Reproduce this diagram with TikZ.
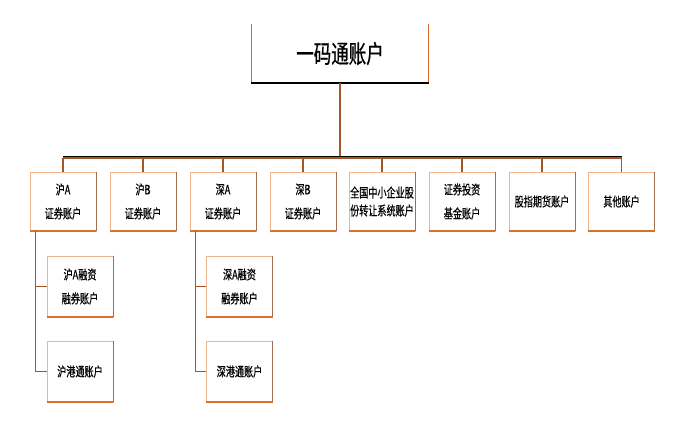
\documentclass[tikz,border=0pt]{standalone}
\usepackage{fontspec}
\setmainfont[FakeStretch=0.7,FakeBold=0.6]{Noto Sans CJK SC}
\usetikzlibrary{positioning}

\definecolor{linecol}{RGB}{165,85,40}
\definecolor{edgecol}{RGB}{240,180,140}
\definecolor{shadecol}{RGB}{222,110,45}
\definecolor{sidecol}{RGB}{160,110,85}

\tikzset{
  acct/.style={draw=edgecol, line width=0.8pt, fill=white,
    minimum width=66pt, minimum height=59pt, inner sep=0pt,
    align=center, font=\fontsize{13}{24}\selectfont},
  link/.style={draw=linecol, line width=1.4pt},
  shade/.style={draw=shadecol, line width=2pt},
}

\begin{document}
\begin{tikzpicture}[x=1pt, y=-1pt]
  \useasboundingbox (0,0) rectangle (685,427);
  \coordinate (bus) at (0,158);

  % top account
  \node[minimum width=177pt, minimum height=59pt, inner sep=0pt,
    font=\fontsize{25}{28}\selectfont] (Top) at (340,53.5) {一码通账户};
  \draw[draw=shadecol, line width=0.8pt] (Top.north west) -- (Top.south west);
  \draw[draw=shadecol, line width=0.8pt] (Top.north east) -- (Top.south east);
  \draw[black, line width=1.6pt] (Top.south west) -- (Top.south east);

  % first level
  \node[acct] (HuA)   at (63,201.5)  {沪A\\证券账户};
  \node[acct] (HuB)   at (143,201.5) {沪B\\证券账户};
  \node[acct] (ShenA) at (223,201.5) {深A\\证券账户};
  \node[acct] (ShenB) at (303,201.5) {深B\\证券账户};
  \node[acct, font=\fontsize{13}{18}\selectfont] (Neeq) at (382,201.5)
    {全国中小企业股\\份转让系统账户};
  \node[acct] (Fund)  at (462,201.5) {证券投资\\基金账户};
  \node[acct] (Fut)   at (542,201.5) {股指期货账户};
  \node[acct] (Other) at (621.5,201.5) {其他账户};

  % second level
  \node[acct, minimum height=61pt] (HuARz)   at (80,286.5)    {沪A融资\\融券账户};
  \node[acct, minimum height=61pt] (HuGt)    at (80,371.5)    {沪港通账户};
  \node[acct, minimum height=61pt] (ShenARz) at (239.5,286.5) {深A融资\\融券账户};
  \node[acct, minimum height=61pt] (ShenGt)  at (239.5,371.5) {深港通账户};

  \foreach \n in {HuA,HuB,ShenA,ShenB,Neeq,Fund,Fut,Other,HuARz,HuGt,ShenARz,ShenGt}{
    \draw[draw=sidecol, line width=1.1pt] (\n.north east) -- (\n.south east);
    \draw[shade] (\n.south west) -- (\n.south east);
  }

  % connectors
  \draw[link] (Top.south) -- (Top.south |- bus);
  \draw[black, line width=1pt] ([yshift=1.4pt]HuA.north |- bus) -- ([yshift=1.4pt]Other.north |- bus);
  \draw[link] (HuA.north |- bus) -- (Other.north |- bus);
  \foreach \n in {HuA,HuB,ShenA,ShenB,Neeq,Fund,Fut,Other}
    \draw[link] (bus -| \n.north) -- (\n.north);

  \draw[link] ([xshift=6pt]HuA.south west) |- (HuARz.west);
  \draw[link] ([xshift=6pt]HuA.south west) |- (HuGt.west);
  \draw[link] ([xshift=6pt]ShenA.south west) |- (ShenARz.west);
  \draw[link] ([xshift=6pt]ShenA.south west) |- (ShenGt.west);
\end{tikzpicture}
\end{document}
